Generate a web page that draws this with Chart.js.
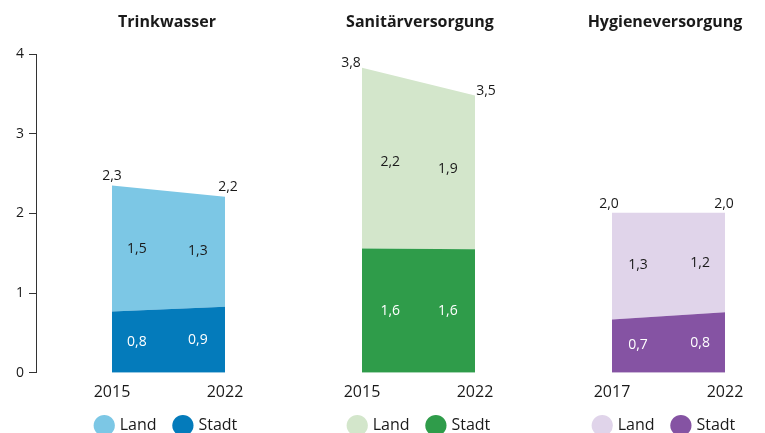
<!DOCTYPE html>
<html>
<head>
<meta charset="utf-8">
<script src="https://cdn.jsdelivr.net/npm/chart.js@4"></script>
<style>
  body { margin: 0; background: #fff; }
  #wrap { position: relative; width: 765px; height: 433px; overflow: hidden; }
  .panel { position: absolute; top: 0; height: 433px; }
</style>
</head>
<body>
<div id="wrap">
  <div class="panel" id="p1" style="left:0px;width:334px"><canvas id="c1"></canvas></div>
  <div class="panel" id="p2" style="left:305px;width:230px"><canvas id="c2"></canvas></div>
  <div class="panel" id="p3" style="left:570px;width:190px"><canvas id="c3"></canvas></div>
</div>
<script>
// ---------------- Daten (Personen in Mrd.) ----------------
var titel = ['Trinkwasser', 'Sanitärversorgung', 'Hygieneversorgung'];
var serien = ['Stadt', 'Land'];

var jahreTrink = ['2015', '2022'];
var trinkStadt = [0.77, 0.83];
var trinkLand = [1.58, 1.38];
var trinkStadtText = ['0,8', '0,9'];
var trinkLandText = ['1,5', '1,3'];
var trinkSummeText = ['2,3', '2,2'];

var jahreSan = ['2015', '2022'];
var sanStadt = [1.56, 1.55];
var sanLand = [2.27, 1.93];
var sanStadtText = ['1,6', '1,6'];
var sanLandText = ['2,2', '1,9'];
var sanSummeText = ['3,8', '3,5'];

var jahreHyg = ['2017', '2022'];
var hygStadt = [0.67, 0.76];
var hygLand = [1.34, 1.25];
var hygStadtText = ['0,7', '0,8'];
var hygLandText = ['1,3', '1,2'];
var hygSummeText = ['2,0', '2,0'];

var yTicks = [0, 1, 2, 3, 4];

var TXT = '#1a1a1a';
Chart.defaults.font.family = "'Open Sans', sans-serif";
Chart.defaults.color = TXT;

// -------------------- Beschriftungen in den Flächen --------------------
var flaechenText = {
    id: 'flaechenText',
    afterDatasetsDraw: function (chart, args, o) {
        var ctx = chart.ctx;
        var xs = chart.scales.x, ys = chart.scales.y;
        ctx.save();
        ctx.font = '14px "Open Sans", sans-serif';
        ctx.textAlign = 'center';
        ctx.textBaseline = 'middle';
        for (var i = 0; i < 2; i++) {
            var f = o.fx[i];
            var s = o.stadt[0] + (o.stadt[1] - o.stadt[0]) * f;
            var l = o.land[0] + (o.land[1] - o.land[0]) * f;
            var px = xs.getPixelForValue(f);
            ctx.fillStyle = '#ffffff';
            ctx.fillText(o.stadtText[i], px, (ys.getPixelForValue(0) + ys.getPixelForValue(s)) / 2);
            ctx.fillStyle = TXT;
            ctx.fillText(o.landText[i], px, (ys.getPixelForValue(s) + ys.getPixelForValue(s + l)) / 2);
            // Summe über der Ecke
            ctx.fillText(o.summeText[i], xs.getPixelForValue(i) + o.sumDx[i],
                ys.getPixelForValue(o.stadt[i] + o.land[i]) + o.sumDy);
        }
        ctx.restore();
    }
};

function xBereich(canvasLeft, canvasW, areaLeft, p0, p1) {
    // areaLeft: linke Kante der Zeichenfläche innerhalb des canvas
    var u = p1 - p0;
    return {
        min: -(p0 - canvasLeft - areaLeft) / u,
        max: 1 + (canvasLeft + canvasW - p1) / u
    };
}

function Panel(id, idx, jahre, stadt, land, farben, texte, opt) {
    var r = xBereich(opt.left, opt.width, opt.yAxis ? 36 : 0, opt.p0, opt.p1);
    return new Chart(document.getElementById(id), {
        type: 'line',
        data: {
            datasets: [{
                label: serien[0],
                data: [{ x: 0, y: stadt[0] }, { x: 1, y: stadt[1] }],
                backgroundColor: farben[0],
                borderWidth: 0,
                pointRadius: 0,
                fill: 'origin'
            }, {
                label: serien[1],
                data: [{ x: 0, y: land[0] }, { x: 1, y: land[1] }],
                backgroundColor: farben[1],
                borderWidth: 0,
                pointRadius: 0,
                fill: '-1'
            }]
        },
        options: {
            responsive: true,
            maintainAspectRatio: false,
            animation: false,
            layout: { padding: { left: 0, right: 0, top: 0, bottom: -10.5 } },
            scales: {
                x: {
                    type: 'linear',
                    min: r.min,
                    max: r.max,
                    afterBuildTicks: function (s) { s.ticks = [{ value: 0 }, { value: 1 }]; },
                    afterFit: function (s) { s.height += 3; },
                    ticks: {
                        callback: function (v) { return jahre[v]; },
                        font: { size: 16 },
                        color: TXT,
                        padding: 2,
                        maxRotation: 0,
                        autoSkip: false
                    },
                    grid: { display: false },
                    border: { display: false }
                },
                y: {
                    display: opt.yAxis,
                    stacked: true,
                    min: 0,
                    max: 4,
                    afterBuildTicks: function (s) { s.ticks = yTicks.map(function (v) { return { value: v }; }); },
                    afterFit: function (s) { s.width = opt.yAxis ? 36 : 0; },
                    ticks: { font: { size: 14 }, color: TXT, padding: 5 },
                    grid: { drawOnChartArea: false, tickLength: 7, color: '#333' },
                    border: { color: '#333', width: 1 }
                }
            },
            plugins: {
                title: {
                    display: true,
                    text: titel[idx],
                    font: { size: 16, weight: 'bold' },
                    color: TXT,
                    padding: { top: 13, bottom: 22 }
                },
                legend: {
                    position: 'bottom',
                    reverse: true,
                    labels: {
                        usePointStyle: true,
                        pointStyle: 'circle',
                        boxWidth: 15,
                        boxHeight: 15,
                        padding: 10.5,
                        font: { size: 16 },
                        color: TXT,
                        generateLabels: function (chart) {
                            var items = Chart.defaults.plugins.legend.labels.generateLabels(chart);
                            items.forEach(function (it) { if (it.text === serien[1]) it.text = it.text + '  '; });
                            return items;
                        }
                    }
                },
                tooltip: { enabled: false },
                flaechenText: {
                    stadt: stadt, land: land,
                    stadtText: texte[0], landText: texte[1], summeText: texte[2],
                    fx: opt.fx, sumDx: opt.sumDx, sumDy: opt.sumDy
                }
            }
        },
        plugins: [flaechenText]
    });
}

Panel('c1', 0, jahreTrink, trinkStadt, trinkLand, ['#047bbb', '#7cc7e5'],
    [trinkStadtText, trinkLandText, trinkSummeText],
    { left: 0, width: 334, yAxis: true, p0: 112, p1: 225, fx: [0.22, 0.76], sumDx: [0, 3], sumDy: -10 });
Panel('c2', 1, jahreSan, sanStadt, sanLand, ['#2f9c4a', '#d3e6cb'],
    [sanStadtText, sanLandText, sanSummeText],
    { left: 305, width: 230, yAxis: false, p0: 362, p1: 475, fx: [0.25, 0.76], sumDx: [-11, 11], sumDy: -5 });
Panel('c3', 2, jahreHyg, hygStadt, hygLand, ['#8553a3', '#e0d4ea'],
    [hygStadtText, hygLandText, hygSummeText],
    { left: 570, width: 190, yAxis: false, p0: 612, p1: 725, fx: [0.23, 0.78], sumDx: [-3, -1], sumDy: -9 });
</script>
</body>
</html>
